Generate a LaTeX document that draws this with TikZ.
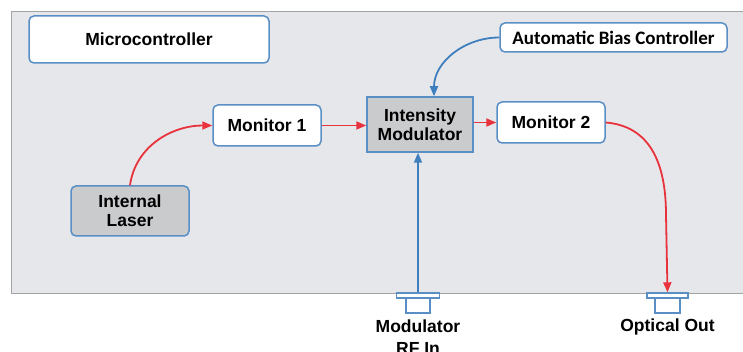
\documentclass[tikz,border=0pt]{standalone}
\usepackage{fontspec}
\setmainfont{Liberation Sans}
\newfontfamily\abcfont{Carlito}
\usetikzlibrary{arrows.meta}
\definecolor{panelfill}{HTML}{E6E7EB}
\definecolor{panelline}{HTML}{A3A3A3}
\definecolor{boxblue}{HTML}{5A8FC6}
\definecolor{arrblue}{HTML}{3F7FBE}
\definecolor{arrred}{HTML}{E8323C}
\definecolor{boxgrey}{HTML}{CACBCD}
\tikzset{
  lbl/.style={font=\fontsize{17.5}{19}\selectfont\bfseries, align=center},
  wbox/.style={draw=boxblue, line width=1.5pt, fill=white, rounded corners=5pt, lbl, inner sep=0pt},
  gbox/.style={draw=boxblue, line width=1.5pt, fill=boxgrey, lbl, inner sep=0pt},
  conn/.style={draw=boxblue, line width=1.4pt, fill=white, inner sep=0pt},
  redarr/.style={draw=arrred, line width=1.8pt, -{Triangle[length=10pt,width=8pt]}},
  bluearr/.style={draw=arrblue, line width=1.8pt, -{Triangle[length=10pt,width=8pt]}},
}
\begin{document}
\begin{tikzpicture}[x=1pt,y=-1pt]
\useasboundingbox (0,0) rectangle (743,352);
\fill[white] (0,0) rectangle (743,352);
% panel
\draw[panelline, fill=panelfill, line width=1pt] (11,12) rectangle (750,293);
% boxes
\node[wbox, minimum width=240pt, minimum height=47pt] (micro) at (149,39.5) {Microcontroller};
\node[wbox, minimum width=227pt, minimum height=29pt, font=\abcfont\fontsize{19}{21}\selectfont\bfseries] (abc) at (613.5,37.5) {Automatic Bias Controller};
\node[wbox, minimum width=108pt, minimum height=41pt] (mon1) at (267,125.5) {Monitor 1};
\node[gbox, minimum width=106pt, minimum height=55pt] (intens) at (420,124.5) {Intensity\\Modulator};
\node[wbox, minimum width=108pt, minimum height=41pt] (mon2) at (551,122.5) {Monitor 2};
\node[gbox, rounded corners=5pt, minimum width=118pt, minimum height=50pt] (laser) at (130,211) {Internal\\Laser};
% connectors (ports)
\node[conn, minimum width=24pt, minimum height=15pt] (rfstem) at (418,305.5) {};
\node[conn, minimum width=43pt, minimum height=5pt] (rfflange) at (418,295.5) {};
\node[conn, minimum width=25pt, minimum height=15pt] (optstem) at (667.5,305.5) {};
\node[conn, minimum width=41pt, minimum height=5pt] (optflange) at (667.5,295.5) {};
\node[lbl, font=\fontsize{17.5}{21.5}\selectfont\bfseries, anchor=north, inner sep=0pt] (rflabel) at (418,320) {Modulator\\RF In};
\node[lbl, anchor=north, inner sep=0pt] (optlabel) at (667.5,318.5) {Optical Out};
% arrows
\draw[redarr] (laser.north) to[out=82,in=180] (mon1.west);
\draw[redarr] (mon1.east) -- (mon1.east -| intens.west);
\draw[redarr] (intens.east |- mon2.west) -- (mon2.west);
\coordinate (optbend) at (666,215);
\draw[redarr] (mon2.east) .. controls (648,126) and (666,160) .. (optbend) -- (optflange.north);
\draw[bluearr] (abc.west) to[out=180,in=90] ([xshift=14pt]intens.north);
\draw[bluearr] (rfflange.north) -- (rfflange.north |- intens.south);
\end{tikzpicture}
\end{document}
